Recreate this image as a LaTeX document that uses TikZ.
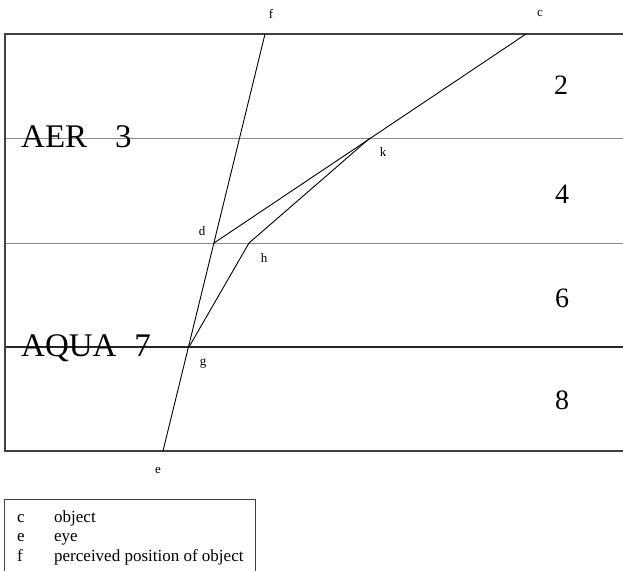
\documentclass[tikz,border=0pt]{standalone}
\usepackage{fontspec}
\setmainfont{Liberation Serif}
\begin{document}
\begin{tikzpicture}[x=1pt,y=-1pt,
  ray/.style={draw=black,line width=0.9pt},
  layer/.style={draw=black!45,line width=0.9pt},
  border/.style={draw=black!75,line width=1.2pt},
  pt/.style={font=\fontsize{13}{13}\selectfont,inner sep=0pt},
  big/.style={font=\fontsize{33}{33}\selectfont,inner sep=0pt,anchor=base west},
  num/.style={font=\fontsize{28}{28}\selectfont,inner sep=0pt},
  leg/.style={font=\fontsize{17}{17}\selectfont,inner sep=0pt,anchor=base west}]
\useasboundingbox (0,0) rectangle (623,570);
% layers
\coordinate (tl) at (5,34);
\coordinate (tr) at (623,34);
\coordinate (bl) at (5,451);
\coordinate (br) at (623,451);
\coordinate (l1) at (5,138);
\coordinate (r1) at (623,138);
\coordinate (l2) at (5,243);
\coordinate (r2) at (623,243);
\coordinate (l3) at (5,347);
\coordinate (r3) at (623,347);
\draw[layer] (l1) -- (r1);
\draw[layer] (l2) -- (r2);
\draw[border,draw=black!85] (l3) -- (r3);
\draw[border] (tr) -- (tl) -- (bl) -- (br);
% points
\coordinate (F) at (265,34);
\coordinate (C) at (526,34);
\coordinate (K) at (370,138);
\coordinate (D) at (214,243);
\coordinate (H) at (249,243);
\coordinate (G) at (189,347);
\coordinate (E) at (163,451);
\draw[ray] (F) -- (E);
\draw[ray] (C) -- (D);
\draw[ray] (K) -- (H) -- (G);
% point labels
\node[pt] (lf) at (271,14) {f};
\node[pt] (lc) at (540,14) {c};
\node[pt] (lk) at (383,152) {k};
\node[pt] (ld) at (202,231) {d};
\node[pt] (lh) at (264,258) {h};
\node[pt] (lg) at (203,364) {g};
\node[pt] (le) at (158,470) {e};
% layer labels
\node[big] (aer) at (21,147) {AER\hspace{28pt}3};
\node[big] (aqua) at (21,356) {AQUA\hspace{18pt}7};
\node[num] (n2) at (561,85) {2};
\node[num] (n4) at (562,194) {4};
\node[num] (n6) at (562,298) {6};
\node[num] (n8) at (562,400) {8};
% legend
\node[draw=black!75,line width=0.9pt,minimum width=251pt,minimum height=75pt,anchor=north west,inner sep=0pt] (legend) at (4,499) {};
\node[leg] (c1) at (17,522) {c};
\node[leg] (t1) at (54,522) {object};
\node[leg] (c2) at (17,541.5) {e};
\node[leg] (t2) at (54,541.5) {eye};
\node[leg] (c3) at (17,561) {f};
\node[leg] (t3) at (54,561) {perceived position of object};
\end{tikzpicture}
\end{document}
